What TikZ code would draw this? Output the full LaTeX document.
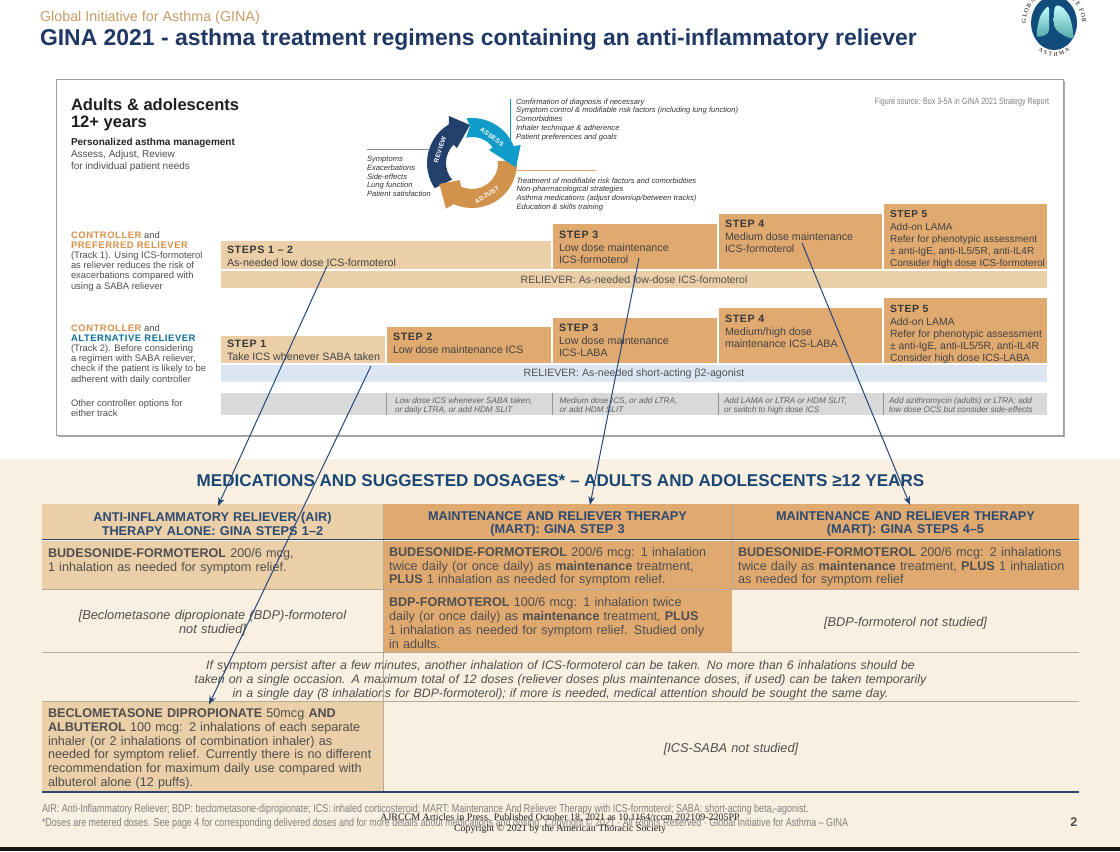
\documentclass[tikz,border=0pt]{standalone}
\usepackage{fontspec}
\setmainfont{Liberation Sans}
\newfontfamily\widef[LetterSpace=6]{Liberation Sans}
\newfontfamily\narrowf[FakeStretch=0.78]{Liberation Sans}
\newfontfamily\pressf{Liberation Serif}
\usetikzlibrary{arrows.meta,calc,shadows,decorations.text}

\definecolor{ginanavy}{HTML}{1F3864}
\definecolor{ginatan}{HTML}{C99C66}
\definecolor{lightfill}{HTML}{EBCFA8}
\definecolor{deepfill}{HTML}{DFA970}
\definecolor{creamback}{HTML}{F9F0E2}
\definecolor{bluebar}{HTML}{DCE6F2}
\definecolor{greybar}{HTML}{D9D9D9}
\definecolor{bodygrey}{HTML}{4F4F4F}
\definecolor{headnavy}{HTML}{2C4A70}
\definecolor{dosenavy}{HTML}{1B4774}
\definecolor{rulegrey}{HTML}{B5A998}
\definecolor{linkblue}{HTML}{27467A}
\definecolor{cycleblue}{HTML}{0F9CCB}
\definecolor{cycleorange}{HTML}{D1924C}
\definecolor{cyclenavy}{HTML}{233F6B}
\definecolor{ctrlorange}{HTML}{D6914A}
\definecolor{ctrlteal}{HTML}{0F6E96}
\definecolor{logoblue}{HTML}{124C7C}

\newcommand{\pxu}{0.75pt}
\newcommand{\fs}[2]{\fontsize{#1}{#2}\selectfont}
% box with its text set in from the top left corner
\newcommand{\stepnode}[8]{%
  \node[#6,minimum width=#4*\pxu,minimum height=#5*\pxu] (#1) at (#2,#3) {};
  \node[steptext] (#1txt) at ($(#1.north west)+(6,#7)$) {#8};}
\newcommand{\steptitle}[1]{{\widef\bfseries\color{black!78}#1}\\[1.2pt]}
\newcommand{\cellnode}[7][]{%
  \node[cell,text width=(#5-12)*\pxu,minimum height=#6*\pxu,#1] (#2) at (#3,#4) {#7};}
% ring arrow: colour, outer from, outer to, wing, tip, wing, inner from, inner to, rest of path
\newcommand{\ringarrow}[9]{%
  \fill[#1] ($(cyc)+(#2:45)$) arc[start angle=#2,end angle=#3,radius=45] -- #4 -- #5 -- #6
    -- ($(cyc)+(#7:26)$) arc[start angle=#7,end angle=#8,radius=26] #9 -- cycle;}

\begin{document}
\begin{tikzpicture}[x=\pxu,y=-\pxu,>={Stealth[length=6.5pt,width=5pt]},
  lab/.style={inner sep=0pt,outer sep=0pt,anchor=north west,align=left},
  basebox/.style={inner sep=0pt,outer sep=0pt,anchor=north west},
  lightbox/.style={basebox,fill=lightfill},
  deepbox/.style={basebox,fill=deepfill},
  steptext/.style={lab,text=bodygrey!85!black,font=\fs{8}{8.9}},
  barbox/.style={basebox,minimum width=826*\pxu,minimum height=17*\pxu,text=bodygrey,font=\fs{7.95}{9}},
  sidetext/.style={lab,text=bodygrey,font=\fs{7.07}{7.6}},
  listtext/.style={lab,text=black!80,font=\fs{5.7}{6.65}\itshape},
  othertext/.style={lab,text=black!62,font=\fs{6.15}{6.9}\itshape},
  cell/.style={inner xsep=6*\pxu,inner ysep=0pt,outer sep=0pt,anchor=north west,align=left,text=bodygrey,font=\fs{9.47}{10.35},execute at begin node={\rule{0pt}{9.9pt}}},
  headcell/.style={align=center,text=headnavy,font=\fs{9.55}{10.4}\bfseries},
  notecell/.style={align=center,font=\fs{9.6}{10.35}\itshape},
  cyclabel/.style={inner sep=0pt,text=white,font=\fs{4.8}{5}\widef\bfseries},
  link/.style={->,draw=linkblue,line width=.75pt}]
\useasboundingbox (0,0) rectangle (1120,851);
\fill[white] (0,0) rectangle (1120,851);
\fill[creamback] (0,459) rectangle (1120,847);
\fill[black!92] (0,847) rectangle (1120,851);

% heading and logo
\node[lab,text=ginatan,font=\fs{10.75}{11}] (org) at (40,11) {Global Initiative for Asthma (GINA)};
\node[lab,anchor=base west,text=ginanavy,font=\fs{17.2}{19}\bfseries] (title) at (40,45) {GINA 2021 - asthma treatment regimens containing an anti-inflammatory reliever};
\fill[logoblue] (1054,23) ellipse[x radius=23,y radius=27];
\shade[top color=cyan!22!white,bottom color=cyan!50!black!70] plot[smooth cycle] coordinates {(1037,36) (1040,17) (1047,7) (1049,9) (1049,21) (1048,33)};
\shade[top color=cyan!22!white,bottom color=cyan!50!black!70] plot[smooth cycle] coordinates {(1055,7) (1062,7) (1070,18) (1073,38) (1060,33) (1054,25)};
\path[decorate,decoration={text along path,text align=fit to path,text={|\pressf\fs{4.6}{5}|GLOBAL INITIATIVE FOR}}] (1026,23) arc[start angle=180,end angle=360,x radius=28,y radius=30];
\path[decorate,decoration={text along path,text align=fit to path,text={|\pressf\fs{4.2}{5}|ASTHMA}}] ($(1054,23)+(124:28 and 33)$) arc[start angle=124,end angle=56,x radius=28,y radius=33];

% top panel
\node[basebox,draw=black!38,line width=.6pt,fill=white,minimum width=1007*\pxu,minimum height=356*\pxu,drop shadow={shadow xshift=1.6pt,shadow yshift=-1.6pt,opacity=.55,fill=black!60}] (panel) at (56,79) {};
\node[lab,text=black!88,font=\fs{12.4}{12.6}\bfseries] (group) at (71,99) {Adults \& adolescents\\12+ years};
\node[lab,text=bodygrey,font=\fs{7.5}{9}] (manage) at (71,138.5) {\textbf{\color{black!85}Personalized asthma management}\\Assess, Adjust, Review\\for individual patient needs};
\node[lab,anchor=base east,text=black!50,font=\narrowf\fs{6.85}{8}] (source) at (1049,104) {Figure source: Box 3-5A in GINA 2021 Strategy Report};

% assess adjust review ring
\coordinate (cyc) at (472,163);
\ringarrow{cyclenavy}{146}{239}{(449,116)}{(470,125)}{(457,148)}{225}{140}{}
\ringarrow{cycleorange}{-4}{114}{(446,208.7)}{(439.3,184)}{(460,180)}{115}{-4}{}
\ringarrow{cycleblue}{-97}{-22}{(520.7,145)}{(516,167.3)}{(489,150)}{-37}{-103}{-- (470,126)}
\node[cyclabel,rotate=72] (review) at (440,150) {REVIEW};
\node[cyclabel,rotate=-38] (assess) at (492,137) {ASSESS};
\node[cyclabel,rotate=33] (adjust) at (487,195) {ADJUST};
\node[listtext] (assesslist) at (516,98.5) {Confirmation of diagnosis if necessary\\Symptom control \& modifiable risk factors (including lung function)\\Comorbidities\\Inhaler technique \& adherence\\Patient preferences and goals};
\node[listtext] (adjustlist) at (516.5,177.5) {Treatment of modifiable risk factors and comorbidities\\Non-pharmacological strategies\\Asthma medications (adjust down/up/between tracks)\\Education \& skills training};
\node[listtext] (reviewlist) at (367,156) {Symptoms\\Exacerbations\\Side-effects\\Lung function\\Patient satisfaction};
\draw[cycleblue,line width=.5pt] (assesslist.north west)++(-6,0) coordinate (assesstop) -- ++(0,45) coordinate (assessend);
\draw[deepfill,line width=.7pt] (adjustlist.north west)++(-1,-7) coordinate (adjusttop) -- ++(80,0) coordinate (adjustend);
\draw[black!45,line width=.6pt] (reviewlist.north west)++(0,-7) coordinate (reviewtop) -- ++(63,0) coordinate (reviewend);

% track 1
\node[sidetext] (track1) at (71,231.5) {{\widef\bfseries\color{ctrlorange}CONTROLLER} and\\{\widef\bfseries\color{ctrlorange}PREFERRED RELIEVER}\\(Track 1). Using ICS-formoterol\\as reliever reduces the risk of\\exacerbations compared with\\using a SABA reliever};
\stepnode{stepsA}{221}{241}{330}{28}{lightbox}{5}{\steptitle{STEPS 1 – 2}As-needed low dose ICS-formoterol}
\stepnode{stepAiii}{553}{224}{164}{45}{deepbox}{7}{\steptitle{STEP 3}Low dose maintenance\\ICS-formoterol}
\stepnode{stepAiv}{719}{214}{163}{55}{deepbox}{6}{\steptitle{STEP 4}Medium dose maintenance\\ICS-formoterol}
\begin{scope}[steptext/.append style={font=\fs{7.55}{8.9}}]
\stepnode{stepAv}{884}{204}{163}{65}{deepbox}{6}{\steptitle{STEP 5}Add-on LAMA\\Refer for phenotypic assessment\\± anti-IgE, anti-IL5/5R, anti-IL4R\\Consider high dose ICS-formoterol}
\end{scope}
\node[barbox,fill=lightfill] (relieverA) at (221,271) {RELIEVER: As-needed low-dose ICS-formoterol};

% track 2
\node[sidetext] (track2) at (71,324.5) {{\widef\bfseries\color{ctrlorange}CONTROLLER} and\\{\widef\bfseries\color{ctrlteal}ALTERNATIVE RELIEVER}\\(Track 2). Before considering\\a regimen with SABA reliever,\\check if the patient is likely to be\\adherent with daily controller};
\stepnode{stepBi}{221}{336}{164}{27}{lightbox}{4}{\steptitle{STEP 1}Take ICS whenever SABA taken}
\stepnode{stepBii}{387}{327}{164}{36}{deepbox}{6}{\steptitle{STEP 2}Low dose maintenance ICS}
\stepnode{stepBiii}{553}{318}{164}{45}{deepbox}{6}{\steptitle{STEP 3}Low dose maintenance\\ICS-LABA}
\stepnode{stepBiv}{719}{308}{163}{55}{deepbox}{7}{\steptitle{STEP 4}Medium/high dose\\maintenance ICS-LABA}
\begin{scope}[steptext/.append style={font=\fs{7.8}{8.9}}]
\stepnode{stepBv}{884}{298}{163}{65}{deepbox}{7}{\steptitle{STEP 5}Add-on LAMA\\Refer for phenotypic assessment\\± anti-IgE, anti-IL5/5R, anti-IL4R\\Consider high dose ICS-LABA}
\end{scope}
\node[barbox,fill=bluebar] (relieverB) at (221,365) {RELIEVER: As-needed short-acting β2-agonist};

% other options
\node[sidetext] (otherlab) at (71,399.5) {Other controller options for\\either track};
\node[basebox,fill=greybar,minimum width=826*\pxu,minimum height=22*\pxu] (otherbar) at (221,393) {};
\foreach \xx in {165,331,497,662} \draw[black!42,line width=.5pt] ($(otherbar.north west)+(\xx,0)$) -- ($(otherbar.south west)+(\xx,0)$);
\node[othertext] (otherii) at (395,397.5) {Low dose ICS whenever SABA taken,\\or daily LTRA, or add HDM SLIT};
\node[othertext] (otheriii) at (559.5,397.5) {Medium dose ICS, or add LTRA,\\or add HDM SLIT};
\node[othertext] (otheriv) at (724,397.5) {Add LAMA or LTRA or HDM SLIT,\\or switch to high dose ICS};
\node[othertext] (otherv) at (889,397.5) {Add azithromycin (adults) or LTRA; add\\low dose OCS but consider side-effects};

% dosage table
\node[inner sep=0pt,anchor=base,text=dosenavy,font=\fs{12.8}{13}\bfseries] (dosehead) at (560.5,486.5) {MEDICATIONS AND SUGGESTED DOSAGES* – ADULTS AND ADOLESCENTS ≥12 YEARS};
\cellnode[fill=lightfill,headcell]{hdrair}{42}{504}{341}{35.5}{ANTI-INFLAMMATORY RELIEVER (AIR)\\THERAPY ALONE: GINA STEPS 1–2}
\cellnode[fill=deepfill,headcell]{hdrstep}{383}{504}{349}{35.5}{MAINTENANCE AND RELIEVER THERAPY\\(MART): GINA STEP 3}
\cellnode[fill=deepfill,headcell]{hdrsteps}{732}{504}{347}{35.5}{MAINTENANCE AND RELIEVER THERAPY\\(MART): GINA STEPS 4–5}
\cellnode[fill=lightfill]{budair}{42}{540.5}{341}{48.5}{\textbf{BUDESONIDE-FORMOTEROL} 200/6 mcg,\\1 inhalation as needed for symptom relief.\\\mbox{}}
\cellnode[fill=deepfill]{budstep}{383}{540.5}{349}{48.5}{\textbf{BUDESONIDE-FORMOTEROL} 200/6 mcg: 1 inhalation\\twice daily (or once daily) as \textbf{maintenance} treatment,\\\textbf{PLUS} 1 inhalation as needed for symptom relief.}
\cellnode[fill=deepfill]{budsteps}{732}{540.5}{347}{48.5}{\textbf{BUDESONIDE-FORMOTEROL} 200/6 mcg: 2 inhalations\\twice daily as \textbf{maintenance} treatment, \textbf{PLUS} 1 inhalation\\as needed for symptom relief}
\cellnode[notecell]{bdpair}{42}{589.5}{341}{63}{[Beclometasone dipropionate (BDP)-formoterol\\not studied]}
\cellnode[fill=deepfill,execute at begin node=]{bdpstep}{383}{589.5}{349}{63}{\textbf{BDP-FORMOTEROL} 100/6 mcg: 1 inhalation twice\\daily (or once daily) as \textbf{maintenance} treatment, \textbf{PLUS}\\1 inhalation as needed for symptom relief. Studied only\\in adults.}
\cellnode[notecell]{bdpsteps}{732}{589.5}{347}{63}{[BDP-formoterol not studied]}
\cellnode[notecell,font=\fs{9.22}{10.35}\itshape,execute at begin node={\rule{0pt}{11.3pt}}]{notes}{42}{652.5}{1037}{49}{If symptom persist after a few minutes, another inhalation of ICS-formoterol can be taken. No more than 6 inhalations should be\\taken on a single occasion. A maximum total of 12 doses (reliever doses plus maintenance doses, if used) can be taken temporarily\\in a single day (8 inhalations for BDP-formoterol); if more is needed, medical attention should be sought the same day.}
\cellnode[fill=lightfill]{albair}{42}{701.5}{341}{90.5}{\textbf{BECLOMETASONE DIPROPIONATE} 50mcg \textbf{AND}\\\textbf{ALBUTEROL} 100 mcg: 2 inhalations of each separate\\inhaler (or 2 inhalations of combination inhaler) as\\needed for symptom relief. Currently there is no different\\recommendation for maximum daily use compared with\\albuterol alone (12 puffs).}
\cellnode[notecell]{albrest}{383}{701.5}{696}{90.5}{[ICS-SABA not studied]}
\draw[rulegrey,line width=.7pt] (hdrair.north east) -- (albair.south east);
\draw[rulegrey,line width=.6pt] (hdrsteps.north west) -- (budsteps.south west);
\draw[headnavy,line width=1.2pt] (hdrair.south west) -- (hdrsteps.south east);
\draw[rulegrey,line width=.7pt] (budair.south west) -- (budsteps.south east);
\draw[rulegrey,line width=.7pt] (bdpair.south west) -- (bdpsteps.south east);
\draw[rulegrey,line width=.7pt] (notes.south west) -- (notes.south east);
\draw[headnavy,line width=1pt] (albair.south west) -- (albrest.south east);

% foot of the page
\node[lab,anchor=base west,text=black!50,font=\narrowf\fs{8.6}{9}] (footA) at (42,812.5) {AIR: Anti-Inflammatory Reliever; BDP: beclometasone-dipropionate; ICS: inhaled corticosteroid; MART: Maintenance And Reliever Therapy with ICS-formoterol; SABA: short-acting beta\raisebox{-1pt}{\fs{4.5}{5}2}-agonist.};
\node[lab,anchor=base west,text=black!50,font=\narrowf\fs{8.6}{9}] (footB) at (42,826.5) {*Doses are metered doses. See page 4 for corresponding delivered doses and for more details about medications and dosing. Copyright © 2021 · All Rights Reserved · Global Initiative for Asthma – GINA};
\node[lab,anchor=base,text=black!85,font=\pressf\fs{7.47}{8}] (pressA) at (560,820) {AJRCCM Articles in Press. Published October 18, 2021 as 10.1164/rccm.202109-2205PP};
\node[lab,anchor=base,text=black!85,font=\pressf\fs{7.47}{8}] (pressB) at (560,831) {Copyright © 2021 by the American Thoracic Society};
\node[lab,anchor=base,text=bodygrey,font=\fs{9.5}{10}\bfseries] (pageno) at (1074,826) {2};

% links from the steps to the table
\coordinate (stepsAout) at ($(stepsA.north west)+(106,25)$);
\coordinate (stepBout) at ($(stepBi.north west)+(150,30)$);
\coordinate (stepCout) at ($(stepAiii.north west)+(86,34)$);
\coordinate (stepDout) at ($(stepAiv.north west)+(83,29)$);
\coordinate (airin) at ($(hdrair.north west)+(176,2)$);
\coordinate (albin) at ($(albair.north west)+(167,3)$);
\coordinate (stepin) at ($(hdrstep.north west)+(207,1)$);
\coordinate (stepsin) at ($(hdrsteps.north west)+(178,1)$);
\draw[link] (stepsAout) -- (airin);
\draw[link] (stepBout) -- (albin);
\draw[link] (stepCout) -- (stepin);
\draw[link] (stepDout) -- (stepsin);
\end{tikzpicture}
\end{document}
